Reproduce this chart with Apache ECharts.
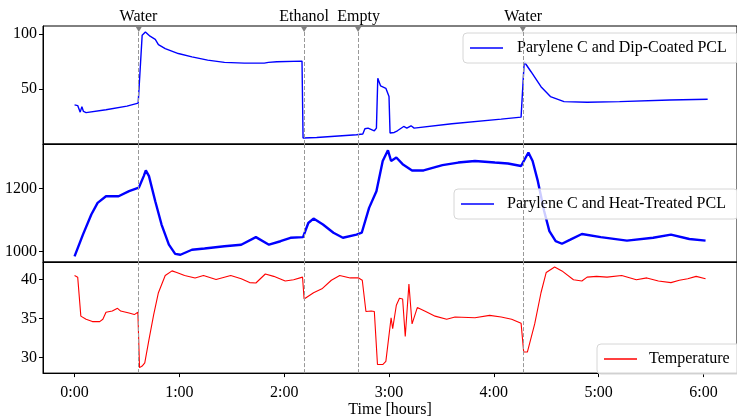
<!DOCTYPE html>
<html>
<head>
<meta charset="utf-8">
<script src="https://cdn.jsdelivr.net/npm/echarts@6/dist/echarts.min.js"></script>
<style>
  html, body { margin: 0; padding: 0; background: #fff; }
  #chart { width: 737px; height: 419px; }
</style>
</head>
<body>
<div id="chart"></div>
<script>
// event markers (hours)
const eventTimes = [0.613, 2.19, 2.705, 4.277];
const eventNames = ['Water', 'Ethanol', 'Empty', 'Water'];

// x ticks
const hourTicks = [0, 1, 2, 3, 4, 5, 6];

// Parylene C and Dip-Coated PCL
const dipTime = [0, 0.03, 0.054, 0.07, 0.085, 0.11, 0.3, 0.5, 0.607, 0.645, 0.676, 0.72, 0.77, 0.8, 0.865, 0.99,
  1.12, 1.27, 1.43, 1.62, 1.81, 1.85, 1.93, 2.17, 2.18, 2.185, 2.31, 2.69, 2.75, 2.77, 2.8, 2.86, 2.88, 2.893,
  2.92, 2.97, 3.0, 3.01, 3.05, 3.08, 3.14, 3.17, 3.21, 3.24, 3.6, 4.07, 4.26, 4.29, 4.355, 4.45, 4.54, 4.67,
  4.89, 5.2, 5.68, 6.04];
const dipVal = [36, 35.3, 29.4, 34.4, 30, 29, 31.5, 34.8, 37.5, 98.7, 101.6, 97.8, 95, 90.3, 86.7, 82.2,
  79.2, 76.3, 74.2, 73.6, 73.6, 74.2, 74.8, 75.4, 6.1, 5.5, 6.6, 9, 9.7, 14.4, 15, 12.6, 15, 59.9,
  53, 50.9, 43.4, 10.6, 11.1, 12.6, 16.5, 15, 17.1, 15, 19, 23.1, 24.9, 74.8, 65.8, 52.3, 43.4, 38.9,
  38.3, 38.9, 40.4, 41];

// Parylene C and Heat-Treated PCL
const heatTime = [0, 0.016, 0.08, 0.16, 0.22, 0.3, 0.42, 0.52, 0.613, 0.66, 0.68, 0.71, 0.77, 0.83, 0.9, 0.96,
  1.01, 1.12, 1.24, 1.43, 1.59, 1.73, 1.855, 1.965, 2.06, 2.18, 2.23, 2.28, 2.37, 2.47, 2.56, 2.69, 2.74,
  2.81, 2.88, 2.94, 2.99, 3.02, 3.07, 3.13, 3.22, 3.33, 3.51, 3.66, 3.82, 4.01, 4.135, 4.26, 4.33, 4.37,
  4.42, 4.48, 4.53, 4.59, 4.65, 4.73, 4.84, 5.02, 5.27, 5.52, 5.69, 5.865, 6.02];
const heatVal = [984, 989, 1053, 1117, 1154, 1175, 1175, 1191, 1202, 1239, 1257, 1239, 1159, 1085, 1021, 992,
  989, 1005, 1009, 1016, 1021, 1045, 1021, 1032, 1043, 1045, 1090, 1104, 1085, 1059, 1043, 1053, 1059,
  1138, 1191, 1287, 1321, 1287, 1298, 1277, 1257, 1257, 1274, 1282, 1287, 1282, 1279, 1271, 1314, 1287,
  1223, 1128, 1064, 1032, 1024, 1037, 1055, 1045, 1034, 1043, 1053, 1039, 1034];

// Temperature
const tempTime = [0, 0.03, 0.06, 0.11, 0.17, 0.24, 0.27, 0.3, 0.36, 0.41, 0.44, 0.52, 0.57, 0.604, 0.62, 0.645,
  0.67, 0.71, 0.755, 0.8, 0.865, 0.93, 0.975, 1.05, 1.15, 1.23, 1.35, 1.49, 1.59, 1.67, 1.73, 1.82, 1.9,
  2.01, 2.09, 2.175, 2.19, 2.28, 2.36, 2.45, 2.53, 2.63, 2.71, 2.745, 2.78, 2.83, 2.86, 2.89, 2.94, 2.97,
  3.02, 3.035, 3.07, 3.1, 3.13, 3.155, 3.19, 3.22, 3.27, 3.35, 3.44, 3.55, 3.63, 3.82, 3.96, 4.07, 4.17,
  4.26, 4.285, 4.32, 4.39, 4.45, 4.5, 4.58, 4.65, 4.76, 4.84, 4.89, 4.98, 5.08, 5.22, 5.36, 5.46, 5.57,
  5.69, 5.77, 5.85, 5.93, 6.02];
const tempVal = [40.5, 40.3, 35.3, 34.9, 34.6, 34.6, 34.9, 35.8, 35.95, 36.3, 35.95, 35.7, 35.5, 35.8, 28.7, 28.9,
  29.3, 32.3, 35.5, 38.3, 40.5, 41.1, 40.9, 40.5, 40.2, 40.5, 40, 40.5, 40.1, 39.6, 39.55, 40.7, 40.4,
  39.8, 39.96, 40.3, 37.5, 38.3, 38.8, 39.9, 40.5, 40.2, 40.2, 39.9, 35.9, 35.95, 35.9, 29.1, 29.1, 29.5,
  35.1, 33.7, 36.7, 37.6, 37.5, 32.7, 39.4, 34.3, 36.4, 35.9, 35.3, 34.9, 35.2, 35.1, 35.4, 35.2, 34.9,
  34.4, 30.7, 30.7, 34.3, 38.3, 40.9, 41.6, 41.1, 39.96, 39.8, 40.3, 40.4, 40.3, 40.5, 39.96, 40.2, 39.8,
  39.6, 39.9, 40.1, 40.4, 40.1];

const zip = (a, b) => a.map((t, i) => [t, b[i]]);
const FONT = 'Liberation Serif';

const chart = echarts.init(document.getElementById('chart'), null, { renderer: 'canvas' });

const grids = [
  { left: 43, width: 702, top: 26, height: 118 },
  { left: 43, width: 702, top: 144, height: 118 },
  { left: 43, width: 702, top: 262, height: 119 }
].map(g => Object.assign(g, { show: true, borderColor: '#000', borderWidth: 1, backgroundColor: 'transparent' }));

function xAxis(i) {
  const last = i === 2;
  return {
    type: 'value', gridIndex: i, min: -0.301, max: 6.32, position: 'bottom',
    axisLine: { show: true, onZero: false, lineStyle: { color: '#000', width: 1 } },
    splitLine: { show: false },
    axisTick: { show: last, inside: false, length: 4, lineStyle: { color: '#000', width: 1 }, customValues: hourTicks },
    axisLabel: {
      show: last, customValues: hourTicks, margin: 12,
      color: '#000', fontFamily: FONT, fontSize: 16,
      formatter: v => v + ':00'
    },
    name: last ? 'Time [hours]' : '', nameLocation: 'middle', nameGap: 28,
    nameTextStyle: { color: '#000', fontFamily: FONT, fontSize: 16 }
  };
}

function yAxis(i, min, max, ticks) {
  return {
    type: 'value', gridIndex: i, min: min, max: max, position: 'left',
    axisLine: { show: true, onZero: false, lineStyle: { color: '#000', width: 1 } },
    splitLine: { show: false },
    axisTick: { show: true, inside: false, length: 4, lineStyle: { color: '#000', width: 1 }, customValues: ticks },
    axisLabel: {
      customValues: ticks, margin: 6, color: '#000', fontFamily: FONT, fontSize: 16,
      formatter: v => String(v)
    }
  };
}

function eventLines(withLabels) {
  return {
    silent: true, symbol: ['none', 'none'],
    lineStyle: { color: '#999', type: [4, 2], width: 1 },
    label: {
      show: withLabels, position: 'end', distance: 1,
      color: '#000', fontFamily: FONT, fontSize: 16,
      formatter: p => p.name
    },
    data: eventTimes.map((t, i) => ({ xAxis: t, name: eventNames[i] }))
  };
}

function legend(name, left, top, textPad) {
  return {
    data: [name], left: left, top: top, orient: 'horizontal',
    icon: 'rect', itemWidth: 33, itemHeight: 1.5,
    padding: [7, 12, 7, 7],
    backgroundColor: 'rgba(255,255,255,0.8)', borderColor: '#d6d6d6', borderWidth: 1, borderRadius: 4,
    textStyle: { color: '#000', fontFamily: FONT, fontSize: 16, padding: [0, 0, 0, textPad] }
  };
}

const option = {
  animation: false,
  backgroundColor: '#fff',
  grid: grids,
  xAxis: [xAxis(0), xAxis(1), xAxis(2)],
  yAxis: [
    yAxis(0, 0.7, 107, [50, 100]),
    yAxis(1, 966, 1341, [1000, 1200]),
    yAxis(2, 28.0, 42.24, [30, 35, 40])
  ],
  legend: [
    legend('Parylene C and Dip-Coated PCL', 463, 33, 9),
    legend('Parylene C and Heat-Treated PCL', 454, 189, 8),
    legend('Temperature', 597, 344, 7)
  ],
  series: [
    {
      name: 'Parylene C and Dip-Coated PCL', type: 'line', xAxisIndex: 0, yAxisIndex: 0,
      data: zip(dipTime, dipVal), showSymbol: false, color: '#0000ff',
      lineStyle: { width: 1.4, color: '#0000ff' },
      markLine: eventLines(true),
      markPoint: {
        silent: true, symbol: 'triangle', symbolSize: [7, 6], symbolRotate: 180, symbolOffset: [0, 3],
        itemStyle: { color: '#808080' }, label: { show: false },
        data: eventTimes.map(t => ({ coord: [t, 107] }))
      }
    },
    {
      name: 'Parylene C and Heat-Treated PCL', type: 'line', xAxisIndex: 1, yAxisIndex: 1,
      data: zip(heatTime, heatVal), showSymbol: false, color: '#0000ff',
      lineStyle: { width: 2.4, color: '#0000ff' },
      markLine: eventLines(false)
    },
    {
      name: 'Temperature', type: 'line', xAxisIndex: 2, yAxisIndex: 2,
      data: zip(tempTime, tempVal), showSymbol: false, color: '#ff0000',
      lineStyle: { width: 1.1, color: '#ff0000' },
      markLine: eventLines(false)
    }
  ]
};

chart.setOption(option);
</script>
</body>
</html>
